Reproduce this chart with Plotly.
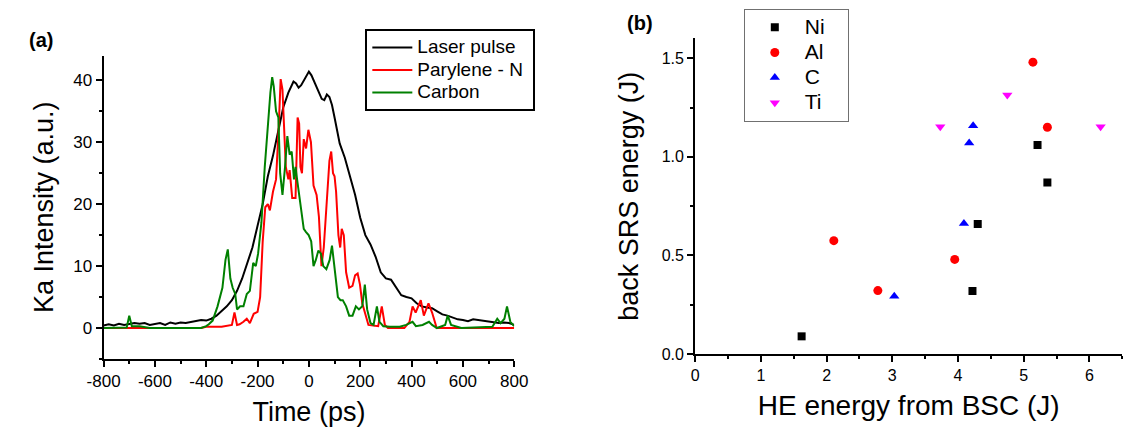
import plotly.graph_objects as go

# ---------------- Panel (a) data ----------------
laser_t = [-800,-780,-760,-740,-720,-700,-680,-660,-640,-620,-600,-580,-560,-540,-520,-500,-480,-460,-440,-420,
           -400,-380,-360,-340,-320,-300,-280,-260,-240,-220,-200,-180,-160,-140,-120,-100,-80,-60,-50,-40,-30,-20,-10,
           0,10,20,30,40,50,60,70,80,90,100,110,120,140,160,180,200,220,240,260,280,300,320,340,360,380,400,420,440,
           460,480,500,520,540,560,580,600,620,640,660,680,700,720,740,760,780,800]
laser_v = [0.4,0.6,0.4,0.7,0.5,0.6,0.8,0.7,0.8,0.5,0.6,0.8,0.5,0.9,0.7,0.9,0.8,1.0,1.1,1.3,
           1.2,1.5,2.0,2.8,3.5,4.5,6.0,8.0,10.5,13.0,16.5,20.0,24.5,27.8,31.7,35.6,38.0,39.8,39.5,38.8,39.2,40.0,40.8,
           41.4,40.8,39.8,38.8,38.0,37.0,36.8,37.7,37.3,36.0,34.0,32.0,29.8,27.5,24.5,21.5,17.8,15.0,13.5,11.5,9.0,8.0,7.8,6.5,5.3,5.0,4.8,4.0,3.5,
           3.3,3.2,2.7,2.2,2.0,1.7,1.4,1.3,1.1,1.4,1.3,1.1,1.0,0.9,0.8,0.9,0.8,0.5]

pary_t = [-800,-420,-400,-340,-300,-290,-280,-270,-255,-242,-230,-215,-200,-190,-180,-170,-160,-152,-140,-128,-118,-110,
          -103,-96,-90,-80,-75,-65,-52,-44,-38,-33,-27,-20,-11,-2,8,18,30,39,49,58,70,80,87,94,100,106,115,122,128,136,
          145,157,170,180,190,199,208,220,232,270,284,296,308,372,392,404,416,436,448,466,480,498,800]
pary_v = [0,0,0.2,0.2,0.5,2.5,0.5,0.6,1.0,1.5,0.8,2.3,2.6,5,14,19.5,20,19,22,24,32,40.2,
          38.5,32,26,24,25.5,21,21,34,33,26,25,30.5,29,32,30,23,21.5,18,10,13,20,27,28.5,25,24.5,22,15,13,16,15,
          9,6.5,6.8,8.5,8.8,7,4,2,0.5,0.3,3.5,0.5,0,0,1,3.5,2.5,4.5,2,4,2.5,0,0]

carb_t = [-800,-710,-700,-690,-660,-640,-620,-420,-400,-390,-375,-356,-337,-325,-316,-306,-297,-287,-280,-268,-255,
          -242,-230,-217,-207,-198,-185,-172,-160,-150,-143,-137,-128,-119,-112,-103,-93,-84,-75,-67,-58,-52,-46,-33,
          -20,-11,-1,9,18,27,37,47,56,68,81,90,100,113,123,132,145,157,170,183,195,208,218,227,240,252,265,275,290,
          316,354,379,404,417,443,468,480,499,531,541,554,594,715,734,747,762,772,785,800]
carb_v = [0,0.1,2,0.3,0.3,0.1,0,0,0.3,0.6,1.2,3.5,6.5,11,12.7,8,6.5,5.5,3,3.5,3.5,
          5.5,6,10.5,10,12,17,26,33,38,40.5,39,35,34,25,21.5,26,31,28,28.5,24,26,24,20,
          16,15.5,15,14,10,11,12.5,12,10,9.5,11,13.3,10,5,4.5,4.5,3.5,2,2,3.5,3,3.5,7,3,0.8,0.5,3.5,1,0.3,
          0.2,0.2,0.5,1,0.3,0.5,1,0.5,0,0.5,2,0.5,0,0.2,1.5,0.8,1.5,3.5,1,0.3]

a_xticks = [-800,-600,-400,-200,0,200,400,600,800]
a_xticklabels = ["-800","-600","-400","-200","0","200","400","600","800"]
a_yticks = [0,10,20,30,40]
a_names = ["Laser pulse", "Parylene - N", "Carbon"]

# ---------------- Panel (b) data ----------------
ni_x = [1.62,4.22,4.30,5.21,5.36]
ni_y = [0.09,0.32,0.66,1.06,0.87]
al_x = [2.11,2.78,3.95,5.14,5.36]
al_y = [0.575,0.322,0.48,1.48,1.15]
c_x = [3.03,4.09,4.17,4.23]
c_y = [0.293,0.662,1.07,1.158]
ti_x = [3.73,4.75,6.17]
ti_y = [1.153,1.314,1.153]
b_names = ["Ni", "Al", "C", "Ti"]

b_xticks = [0,1,2,3,4,5,6]
b_yticks = [0.0,0.5,1.0,1.5]
b_yticklabels = ["0.0","0.5","1.0","1.5"]

FONT = "Liberation Sans, Arial, sans-serif"
W, H = 1147, 428

def lg(name, size, pad=0):
    return "<span style='font-size:%dpx'>%s%s</span>" % (size, name, "&nbsp;" * pad)

fig = go.Figure()
for t, v, nm, col in [(laser_t, laser_v, a_names[0], "black"),
                      (pary_t, pary_v, a_names[1], "#ff0000"),
                      (carb_t, carb_v, a_names[2], "#008000")]:
    fig.add_trace(go.Scatter(x=t, y=v, mode="lines", name=lg(nm, 19, 1),
                             line=dict(color=col, width=2), xaxis="x", yaxis="y", legend="legend"))

for xs, ys, nm, sym, col, sz in [(ni_x, ni_y, b_names[0], "square", "black", 8),
                                 (al_x, al_y, b_names[1], "circle", "#ff0000", 9),
                                 (c_x, c_y, b_names[2], "triangle-up", "#0000ff", 9),
                                 (ti_x, ti_y, b_names[3], "triangle-down", "#ff00ff", 9)]:
    fig.add_trace(go.Scatter(x=xs, y=ys, mode="markers", name=lg(nm, 21, 3),
                             marker=dict(symbol=sym, color=col, size=sz),
                             xaxis="x2", yaxis="y2", legend="legend2"))

def px_x(p): return p / W
def px_y(p): return 1 - p / H

def axis_common(fs):
    return dict(showline=True, linewidth=2, linecolor="black", ticks="outside", tickwidth=2,
                ticklen=6, tickcolor="black", showgrid=False, zeroline=False,
                tickfont=dict(family=FONT, size=fs, color="black"))

fig.update_layout(
    width=W, height=H, margin=dict(l=0, r=0, t=0, b=0),
    paper_bgcolor="white", plot_bgcolor="white",
    font=dict(family=FONT, color="black"),
    xaxis=dict(domain=[px_x(89), px_x(511)], range=[-800, 800], anchor="y",
               tickvals=a_xticks, ticktext=a_xticklabels,
               minor=dict(ticks="outside", dtick=100, ticklen=3, tickwidth=2, tickcolor="black"),
               title=dict(text="Time (ps)", font=dict(family=FONT, size=27), standoff=12),
               **axis_common(17)),
    yaxis=dict(domain=[px_y(366.7), px_y(56.7)], range=[-5, 44], anchor="x",
               tickvals=a_yticks,
               minor=dict(ticks="outside", dtick=5, tick0=0, ticklen=3, tickwidth=2, tickcolor="black"),
               title=dict(text="Ka Intensity (a.u.)", font=dict(family=FONT, size=27), standoff=12),
               **axis_common(17)),
    xaxis2=dict(domain=[px_x(697), px_x(1136)], range=[0, 6.5], anchor="y2",
                tickvals=b_xticks,
                minor=dict(ticks="outside", dtick=0.5, ticklen=3, tickwidth=2, tickcolor="black"),
                title=dict(text="HE energy from BSC (J)", font=dict(family=FONT, size=28), standoff=12),
                **axis_common(16)),
    yaxis2=dict(domain=[px_y(361.7), px_y(39.3)], range=[0, 1.6], anchor="x2",
                tickvals=b_yticks, ticktext=b_yticklabels,
                minor=dict(ticks="outside", dtick=0.25, tick0=0, ticklen=3, tickwidth=2, tickcolor="black"),
                title=dict(text="back SRS energy (J)", font=dict(family=FONT, size=27), standoff=15),
                **axis_common(16)),
    legend=dict(x=px_x(358), y=px_y(30), xanchor="left", yanchor="top",
                bordercolor="black", borderwidth=2, bgcolor="white",
                font=dict(family=FONT, size=15), itemwidth=40, tracegroupgap=0),
    legend2=dict(x=px_x(747), y=px_y(9), xanchor="left", yanchor="top",
                 bordercolor="#707070", borderwidth=1, bgcolor="white",
                 font=dict(family=FONT, size=17), itemwidth=50),
    showlegend=True,
    annotations=[
        dict(text="<b>(a)</b>", x=px_x(10), y=px_y(41), xref="paper", yref="paper",
             xanchor="left", yanchor="middle", showarrow=False, font=dict(family=FONT, size=20)),
        dict(text="<b>(b)</b>", x=px_x(625), y=px_y(24), xref="paper", yref="paper",
             xanchor="left", yanchor="middle", showarrow=False, font=dict(family=FONT, size=20)),
    ],
)

fig.write_html("out.html", config={"displayModeBar": False},
               post_script="document.body.style.margin='0';document.body.style.overflow='hidden';")
